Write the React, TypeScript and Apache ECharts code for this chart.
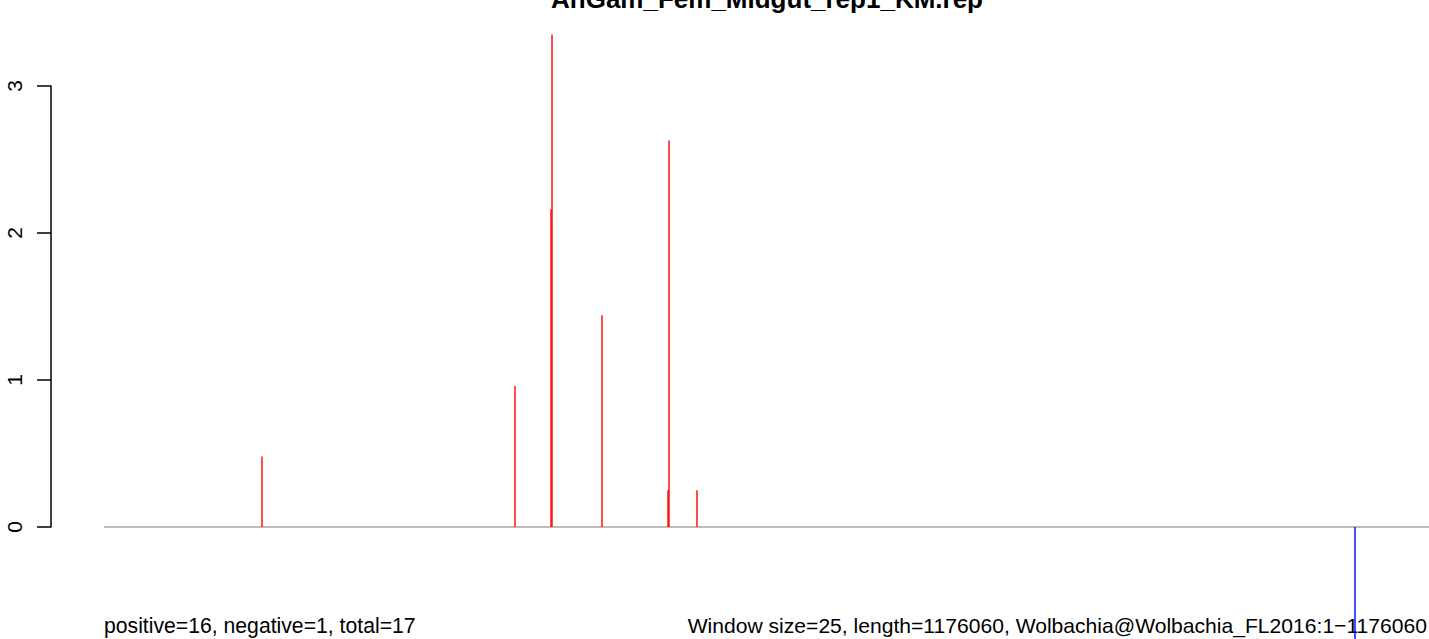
import React, { useEffect, useRef } from "react";
import * as echarts from "echarts";

const TITLE = "AnGam_Fem_Midgut_rep1_KM.rep";
const LEFT_NOTE = "positive=16, negative=1, total=17";
const RIGHT_NOTE = "Window size=25, length=1176060, Wolbachia@Wolbachia_FL2016:1\u22121176060";

const GENOME_START = 1;
const GENOME_LENGTH = 1176060;

// positive-strand windows (red)
const posPositions = [140240, 364800, 396760, 397650, 442020, 500600, 501490, 526340];
const posValues = [0.48, 0.96, 2.16, 3.35, 1.44, 0.25, 2.63, 0.25];

// negative-strand windows (blue)
const negPositions = [1110380];
const negValues = [-1.0];

const yTicks = [0, 1, 2, 3];

export default function App() {
  const ref = useRef<HTMLDivElement>(null);

  useEffect(() => {
    if (!ref.current) return;
    const chart = echarts.init(ref.current, undefined, { renderer: "svg" });
    const font = "'Liberation Sans', Arial, Helvetica, sans-serif";

    const option: any = {
      animation: false,
      backgroundColor: "#ffffff",
      grid: [
        { left: 51, top: 86, width: 10, height: 441 },
        { left: 104, right: 0, top: 0, bottom: 0 },
      ],
      xAxis: [
        { type: "value", gridIndex: 0, show: false, min: 0, max: 1 },
        { type: "value", gridIndex: 1, show: false, min: GENOME_START, max: GENOME_LENGTH },
      ],
      yAxis: [
        {
          type: "value",
          gridIndex: 0,
          min: yTicks[0],
          max: yTicks[yTicks.length - 1],
          interval: 1,
          axisLine: { show: true, lineStyle: { color: "#000", width: 1.5 } },
          axisTick: { show: true, length: 14, lineStyle: { color: "#000", width: 1.5 } },
          splitLine: { show: false },
          axisLabel: {
            rotate: 90,
            margin: 26,
            fontSize: 21,
            color: "#000",
            fontFamily: font,
          },
        },
        {
          type: "value",
          gridIndex: 1,
          show: false,
          min: -112 / 147,
          max: 527 / 147,
        },
      ],
      series: [
        {
          type: "line",
          xAxisIndex: 1,
          yAxisIndex: 1,
          data: [
            [GENOME_START, 0],
            [GENOME_LENGTH, 0],
          ],
          symbol: "none",
          lineStyle: { color: "#a6a6a6", width: 1.5 },
          silent: true,
          z: 1,
        },
        {
          type: "bar",
          xAxisIndex: 1,
          yAxisIndex: 1,
          data: posPositions.map((p, i) => [p, posValues[i]]),
          barWidth: 1.4,
          itemStyle: { color: "#ff0000" },
          clip: true,
          z: 2,
        },
        {
          type: "bar",
          xAxisIndex: 1,
          yAxisIndex: 1,
          data: negPositions.map((p, i) => [p, negValues[i]]),
          barWidth: 1.4,
          barGap: "-100%",
          itemStyle: { color: "#0000ff" },
          clip: true,
          z: 2,
        },
      ],
      graphic: [
        {
          type: "text",
          x: 767,
          y: -1,
          style: {
            text: TITLE,
            fontSize: 26,
            fontWeight: "bold",
            fontFamily: font,
            fill: "#000",
            textAlign: "center",
            textVerticalAlign: "middle",
          },
        },
        {
          type: "text",
          x: 104,
          y: 625,
          style: {
            text: LEFT_NOTE,
            fontSize: 21.2,
            fontFamily: font,
            fill: "#000",
            textAlign: "left",
            textVerticalAlign: "middle",
          },
        },
        {
          type: "text",
          x: 1427,
          y: 625,
          style: {
            text: RIGHT_NOTE,
            fontSize: 21.1,
            fontFamily: font,
            fill: "#000",
            textAlign: "right",
            textVerticalAlign: "middle",
          },
        },
      ],
    };

    chart.setOption(option);
    return () => chart.dispose();
  }, []);

  return (
    <div
      ref={ref}
      style={{ position: "fixed", left: 0, top: 0, width: 1429, height: 639, background: "#fff" }}
    />
  );
}
